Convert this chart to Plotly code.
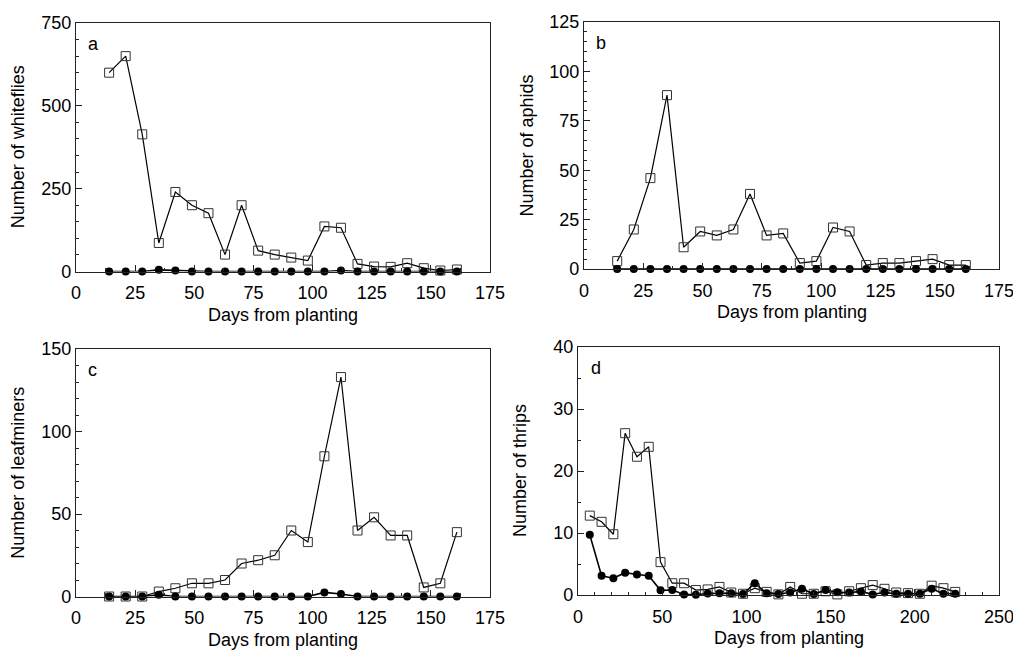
import plotly.graph_objects as go

# ---- data ----
days_abc = [14, 21, 28, 35, 42, 49, 56, 63, 70, 77, 84, 91, 98, 105, 112, 119, 126, 133, 140, 147, 154, 161]
whitefly_open = [600, 650, 414, 86, 240, 200, 176, 51, 200, 63, 51, 42, 33, 136, 132, 23, 15, 14, 25, 10, 3, 6]
whitefly_filled = [0, 0, 0, 5, 3, 0, 0, 0, 0, 0, 0, 0, 0, 0, 3, 0, 0, 0, 0, 0, 0, 0]
aphid_open = [4, 20, 46, 88, 11, 19, 17, 20, 38, 17, 18, 3, 4, 21, 19, 2, 3, 3, 4, 5, 2, 2]
aphid_filled = [0] * 22
leafminer_open = [0, 0, 0, 3, 5, 8, 8, 10, 20, 22, 25, 40, 33, 85, 133, 40, 48, 37, 37, 5.5, 8, 39]
leafminer_filled = [0, 0, 0, 1, 0, 0, 0, 0, 0, 0, 0, 0, 0, 2.5, 1.5, 0, 0, 0, 0, 0, 0, 0]
days_d = [7, 14, 21, 28, 35, 42, 49, 56, 63, 70, 77, 84, 91, 98, 105, 112, 119, 126, 133, 140, 147,
          154, 161, 168, 175, 182, 189, 196, 203, 210, 217, 224]
thrips_open = [12.8, 11.8, 9.8, 26.1, 22.3, 23.9, 5.3, 1.9, 1.9, 0.8, 0.9, 1.3, 0.4, 0.2, 1.1, 0.5,
               0.1, 1.3, 0.2, 0.2, 0.6, 0.1, 0.6, 1.1, 1.6, 1.0, 0.4, 0.3, 0.2, 1.5, 1.1, 0.5]
thrips_filled = [9.7, 3.1, 2.7, 3.6, 3.3, 3.1, 0.75, 0.8, 0.1, 0.05, 0.25, 0.3, 0.3, 0.15, 1.9, 0.3,
                 0.15, 0.4, 1.0, 0.15, 0.8, 0.45, 0.4, 0.55, 0.1, 0.4, 0.2, 0.2, 0.2, 1.0, 0.2, 0.2]
x_title = "Days from planting"

panels = [
    ("a", days_abc, whitefly_open, whitefly_filled, "Number of whiteflies", [0, 750], 250, 50, [0, 175], 25, 12.5),
    ("b", days_abc, aphid_open, aphid_filled, "Number of aphids", [0, 125], 25, 5, [0, 175], 25, 12.5),
    ("c", days_abc, leafminer_open, leafminer_filled, "Number of leafminers", [0, 150], 50, 10, [0, 175], 25, 12.5),
    ("d", days_d, thrips_open, thrips_filled, "Number of thrips", [0, 40], 10, 5, [0, 250], 50, 10),
]

W, H = 1013, 651
# pixel boxes: left, right, top, bottom
boxes = [(76, 490, 23, 271.5), (584, 999, 22, 269), (76, 490, 349, 596.5), (578, 999, 347, 595)]
ytitle_x = [18, 527, 18, 520]

FONT = "Liberation Sans, Arial, sans-serif"
FS = 18
fig = go.Figure()
layout = {}
for i, (lab, xs, yo, yf, ytitle, yr, ydt, ymin, xr, xdt, xmin) in enumerate(panels):
    n = i + 1
    xa = "x" if n == 1 else f"x{n}"
    ya = "y" if n == 1 else f"y{n}"
    fig.add_trace(go.Scatter(x=xs, y=yo, mode="lines+markers", xaxis=xa, yaxis=ya,
                             line=dict(color="black", width=1.2),
                             marker=dict(symbol="square-open", size=9, color="#333333", line=dict(width=1)),
                             cliponaxis=False, showlegend=False))
    fig.add_trace(go.Scatter(x=xs, y=yf, mode="lines+markers", xaxis=xa, yaxis=ya,
                             line=dict(color="black", width=1.6),
                             marker=dict(symbol="circle", size=8, color="black"),
                             cliponaxis=False, showlegend=False))
    l, r, t, b = boxes[i]
    axis_common = dict(showline=True, linecolor="#222222", linewidth=1.2, mirror=True,
                       ticks="inside", ticklen=6, tickcolor="#222222", showgrid=False,
                       zeroline=False, automargin=False, ticklabeloverflow="allow",
                       tickfont=dict(size=FS, color="black", family=FONT))
    layout["xaxis" if n == 1 else f"xaxis{n}"] = dict(
        domain=[l / W, r / W], anchor=ya, range=xr, dtick=xdt, tick0=0, ticklabelstandoff=5,
        minor=dict(ticks="inside", ticklen=3, dtick=xmin, tick0=0, tickcolor="#222222"),
        **axis_common)
    layout["yaxis" if n == 1 else f"yaxis{n}"] = dict(
        domain=[1 - b / H, 1 - t / H], anchor=xa, range=yr, dtick=ydt, tick0=0,
        minor=dict(ticks="inside", ticklen=3, dtick=ymin, tick0=0, tickcolor="#222222"),
        **axis_common)
    # panel letter
    fig.add_annotation(text=lab, xref=f"{xa} domain", yref=f"{ya} domain", x=0.025, y=0.965,
                       xanchor="left", yanchor="top", showarrow=False,
                       font=dict(size=FS, color="black", family=FONT))
    # x title
    fig.add_annotation(text=x_title, xref="paper", yref="paper", x=(l + r) / 2 / W,
                       y=1 - (b + 43) / H, xanchor="center", yanchor="middle", showarrow=False,
                       font=dict(size=FS, color="black", family=FONT))
    # y title
    fig.add_annotation(text=ytitle, xref="paper", yref="paper", x=ytitle_x[i] / W,
                       y=1 - (t + b) / 2 / H, xanchor="center", yanchor="middle", textangle=-90,
                       showarrow=False, font=dict(size=FS, color="black", family=FONT))

fig.update_layout(width=W, height=H, margin=dict(l=0, r=0, t=0, b=0),
                  paper_bgcolor="white", plot_bgcolor="white", font=dict(family=FONT), **layout)
fig.write_html("out.html", config={"displayModeBar": False},
               post_script="document.body.style.margin='0px';document.body.style.overflow='hidden';")
